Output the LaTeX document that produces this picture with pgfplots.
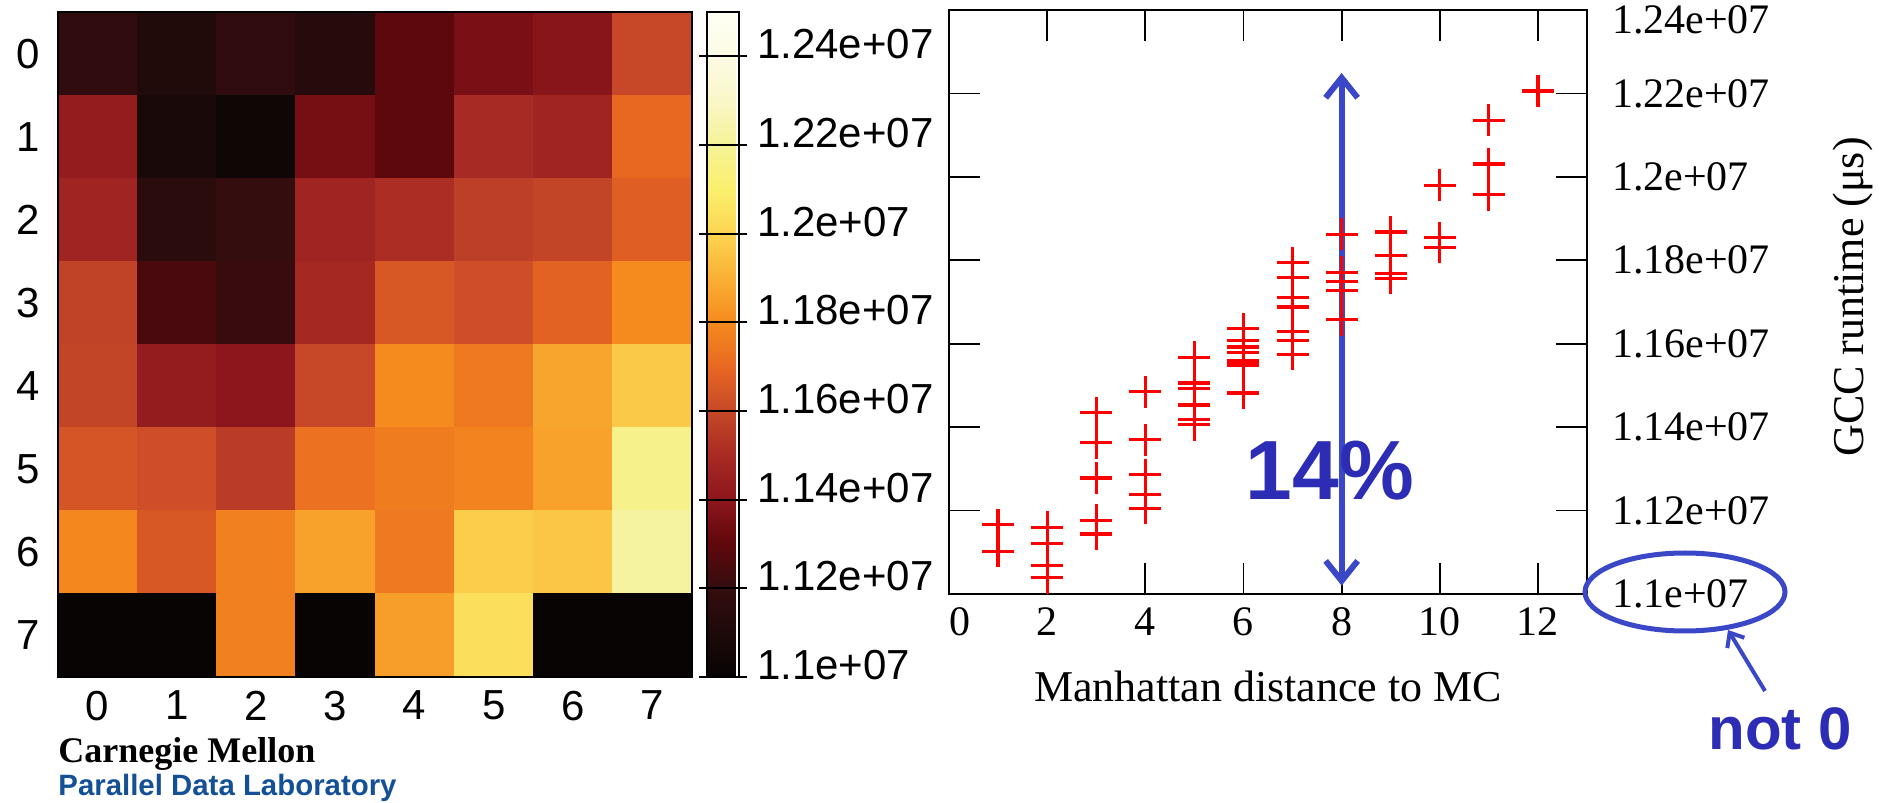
\documentclass[border=0pt]{standalone}
\usepackage{fontspec}
\setmainfont{Liberation Sans}
\newfontfamily\tnr{Liberation Serif}
\usepackage{pgfplots}
\usepackage{pgfplotstable}
\pgfplotsset{compat=1.18}
\usetikzlibrary{arrows.meta}
\definecolor{annblue}{RGB}{58,72,200}
\definecolor{txtblue}{RGB}{44,44,180}
\definecolor{cmublue}{RGB}{20,80,150}

\pgfplotstableread{
x y c
0 0 1.118e7
1 0 1.111e7
2 0 1.118e7
3 0 1.113e7
4 0 1.129e7
5 0 1.136e7
6 0 1.139e7
7 0 1.160e7
0 1 1.143e7
1 1 1.108e7
2 1 1.103e7
3 1 1.135e7
4 1 1.129e7
5 1 1.150e7
6 1 1.147e7
7 1 1.170e7
0 2 1.147e7
1 2 1.116e7
2 2 1.120e7
3 2 1.147e7
4 2 1.151e7
5 2 1.157e7
6 2 1.159e7
7 2 1.167e7
0 3 1.158e7
1 3 1.125e7
2 3 1.121e7
3 3 1.149e7
4 3 1.165e7
5 3 1.162e7
6 3 1.168e7
7 3 1.180e7
0 4 1.159e7
1 4 1.143e7
2 4 1.140e7
3 4 1.160e7
4 4 1.180e7
5 4 1.175e7
6 4 1.187e7
7 4 1.197e7
0 5 1.164e7
1 5 1.162e7
2 5 1.156e7
3 5 1.173e7
4 5 1.176e7
5 5 1.178e7
6 5 1.186e7
7 5 1.217e7
0 6 1.179e7
1 6 1.165e7
2 6 1.177e7
3 6 1.186e7
4 6 1.175e7
5 6 1.198e7
6 6 1.196e7
7 6 1.222e7
0 7 1.100e7
1 7 1.100e7
2 7 1.177e7
3 7 1.100e7
4 7 1.185e7
5 7 1.204e7
6 7 1.100e7
7 7 1.100e7
}\heat

\pgfplotstableread{
x y
1 1.1166e7
1 1.1102e7
2 1.1160e7
2 1.1121e7
2 1.1069e7
2 1.1039e7
3 1.1435e7
3 1.1363e7
3 1.1278e7
3 1.1177e7
3 1.1144e7
4 1.1485e7
4 1.1370e7
4 1.1286e7
4 1.1238e7
4 1.1205e7
5 1.1567e7
5 1.1506e7
5 1.1493e7
5 1.1453e7
5 1.1418e7
5 1.1406e7
6 1.1636e7
6 1.1608e7
6 1.1592e7
6 1.1579e7
6 1.1560e7
6 1.1553e7
6 1.1548e7
6 1.1482e7
7 1.1794e7
7 1.1759e7
7 1.1711e7
7 1.1688e7
7 1.1629e7
7 1.1607e7
7 1.1575e7
8 1.1862e7
8 1.1771e7
8 1.1750e7
8 1.1728e7
8 1.1658e7
9 1.1868e7
9 1.1812e7
9 1.1769e7
9 1.1757e7
10 1.1980e7
10 1.1854e7
10 1.1831e7
11 1.2136e7
11 1.2031e7
11 1.1957e7
12 1.2206e7
}\runtime

\begin{document}
\begin{tikzpicture}[x=1pt,y=1pt]
% ---------------- heat map ----------------
\begin{axis}[
  at={(29pt,63pt)}, anchor=south west,
  scale only axis, width=317pt, height=332.5pt,
  xmin=-0.5, xmax=7.5, ymin=-0.5, ymax=7.5,
  y dir=reverse,
  enlargelimits=false,
  xtick={0,1,2,3,4,5,6,7}, ytick={0,1,2,3,4,5,6,7},
  xticklabels={0,1,2,3,4,5,6,7}, yticklabels={0,1,2,3,4,5,6,7},
  major tick length=0pt,
  tick label style={font=\fontsize{21}{21}\selectfont},
  xticklabel style={yshift=-3.5pt},
  yticklabel style={xshift=-5.5pt},
  axis line style={line width=0.7pt},
  axis on top,
  colormap={cmhot}{rgb255=(8,4,4) rgb255=(30,10,10) rgb255=(52,13,15) rgb255=(96,8,12) rgb255=(140,22,28) rgb255=(168,42,36) rgb255=(198,72,40) rgb255=(232,104,34) rgb255=(245,138,30) rgb255=(250,176,52) rgb255=(252,212,80) rgb255=(250,240,110) rgb255=(245,242,150) rgb255=(249,247,200) rgb255=(252,251,228) rgb255=(255,255,245)},
  point meta min=1.1e7, point meta max=1.25e7,
  colorbar,
  colorbar style={
    at={(parent axis.south east)}, anchor=south west, xshift=-1pt,
    scale only axis, width=16pt, height=332.5pt,
    ytick={1.1e7,1.12e7,1.14e7,1.16e7,1.18e7,1.2e7,1.22e7,1.24e7},
    yticklabels={1.1e+07,1.12e+07,1.14e+07,1.16e+07,1.18e+07,1.2e+07,1.22e+07,1.24e+07},
    ytick pos=both, yticklabel pos=right,
    major tick length=4pt, tick align=outside,
    ymajorgrids, grid style={black, line width=0.9pt},
    major tick style={black, line width=0.9pt},
    axis line style={line width=0.7pt},
    axis on top,
    yticklabel style={font=\fontsize{21}{21}\selectfont, xshift=1.5pt, yshift=6pt},
  },
]
\addplot[matrix plot*, mesh/cols=8, point meta=explicit] table[x=x, y=y, meta=c] {\heat};
\end{axis}

% ---------------- scatter ----------------
\begin{axis}[
  at={(474.5pt,104.5pt)}, anchor=south west,
  scale only axis, width=319pt, height=292pt,
  xmin=0, xmax=13, ymin=1.1e7, ymax=1.24e7,
  xtick={0,2,4,6,8,10,12}, xticklabels={\kern11pt 0,2,4,6,8,10,12},
  ytick={1.1e7,1.12e7,1.14e7,1.16e7,1.18e7,1.2e7,1.22e7,1.24e7},
  yticklabels={1.1e+07,1.12e+07,1.14e+07,1.16e+07,1.18e+07,1.2e+07,1.22e+07,\raisebox{-12pt}[0pt][0pt]{1.24e+07}},
  xtick pos=both, xticklabel pos=bottom,
  ytick pos=both, yticklabel pos=right,
  tick align=inside, major tick length=15.5pt,
  major tick style={black, line width=0.9pt},
  axis line style={line width=1pt},
  tick label style={font=\tnr\fontsize{21}{21}\selectfont},
  xticklabel style={yshift=-3.5pt},
  yticklabel style={xshift=9pt},
  xlabel={Manhattan distance to MC},
  ylabel={GCC runtime (μs)},
  xlabel style={at={(axis description cs:0.5,-0.159)}, anchor=center, font=\tnr\fontsize{22}{22}\selectfont},
  ylabel style={at={(axis description cs:1.417,0.5086)}, anchor=center, font=\tnr\fontsize{22}{22}\selectfont},
]
\addplot[only marks, mark=+, mark size=8pt, red, mark options={line width=1.6pt}] table[x=x, y=y] {\runtime};
\draw[annblue, line width=3pt, {Straight Barb[length=10pt,width=16pt]}-{Straight Barb[length=10pt,width=16pt]}]
  (axis cs:8,1.2249e7) -- (axis cs:8,1.1020e7);
\node[txtblue, font=\bfseries\fontsize{42}{42}\selectfont] at (axis cs:7.76,1.1295e7) {14\%};
\end{axis}

% ---------------- annotations ----------------
\draw[annblue, line width=2.5pt] (842.5pt,105.5pt) ellipse [x radius=50pt, y radius=19.5pt];
\draw[annblue, line width=2pt, -{Straight Barb[length=6pt,width=10pt]}] (882.5pt,56pt) -- (864pt,86.5pt);
\node[txtblue, font=\bfseries\fontsize{30}{30}\selectfont] at (890pt,37.25pt) {not 0};

\node[anchor=base west, inner sep=0pt, font=\tnr\bfseries\fontsize{18}{18}\selectfont] at (29pt,20pt) {Carnegie Mellon};
\node[anchor=base west, inner sep=0pt, text=cmublue, font=\bfseries\fontsize{14.7}{14.7}\selectfont] at (29pt,3.5pt) {Parallel Data Laboratory};

\pgfresetboundingbox
\useasboundingbox (0pt,0pt) rectangle (945pt,401.5pt);
\end{tikzpicture}
\end{document}
